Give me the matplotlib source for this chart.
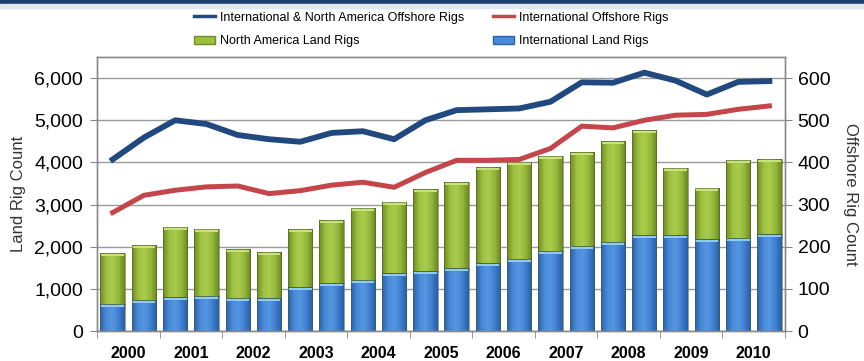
import numpy as np
import matplotlib.pyplot as plt
from matplotlib.colors import LinearSegmentedColormap
from matplotlib.patches import Rectangle, Patch
from matplotlib.lines import Line2D
from matplotlib.ticker import StrMethodFormatter, FixedLocator

plt.rcParams['font.family'] = ['Liberation Sans', 'DejaVu Sans']

years = ['2000', '2001', '2002', '2003', '2004', '2005',
         '2006', '2007', '2008', '2009', '2010']

# half-year rig counts, two per year
intl_land = [650, 740, 800, 840, 790, 785, 1035, 1130, 1220, 1375, 1425,
             1490, 1615, 1715, 1905, 2020, 2120, 2275, 2275, 2185, 2215, 2300]
na_land = [1195, 1300, 1675, 1590, 1145, 1090, 1385, 1500, 1705, 1690, 1940,
           2035, 2265, 2300, 2255, 2220, 2385, 2485, 1600, 1215, 1850, 1780]
offshore_all = [407, 459, 500, 491, 465, 455, 449, 470, 474, 455, 500,
                524, 526, 528, 544, 590, 589, 613, 594, 561, 591, 593]
offshore_intl = [281, 322, 334, 342, 344, 326, 333, 346, 353, 341, 376,
                 405, 405, 407, 433, 486, 482, 500, 512, 514, 526, 534]

navy = '#21497f'
red = '#c4464a'
green_cmap = LinearSegmentedColormap.from_list(
    'g', ['#6f8c22', '#9dc040', '#a9cc4c', '#94b83a', '#6a8720'])
blue_cmap = LinearSegmentedColormap.from_list(
    'b', ['#2a63ad', '#4a8ad8', '#5596e2', '#3f7fcf', '#275ea6'])
grad = np.linspace(0, 1, 64).reshape(1, -1)

x = np.arange(len(intl_land))
width = 0.78

fig = plt.figure(figsize=(8.64, 3.61), dpi=100)
# dark title strip along the top edge
fig.patches.append(Rectangle((0, 0.99), 1, 0.01, transform=fig.transFigure,
                             color='#1d3f6e', zorder=5))
fig.patches.append(Rectangle((0, 0.978), 1, 0.012, transform=fig.transFigure,
                             color='#dfe6ee', zorder=5))
ax = fig.add_axes([0.1123, 0.0831, 0.7963, 0.7589])
ax2 = ax.twinx()


def shaded_bars(values, bottom, cmap, top_color):
    bars = ax.bar(x, values, width, bottom=bottom, facecolor='none',
                  edgecolor='#4a5a30', linewidth=0.4, zorder=3)
    for rect in bars:
        x0, y0 = rect.get_x(), rect.get_y()
        im = ax.imshow(grad, extent=[x0, x0 + rect.get_width(), y0, y0 + rect.get_height()],
                       aspect='auto', cmap=cmap, zorder=2.5, interpolation='bilinear')
        im.set_clip_path(rect)
    tops = np.array(bottom) + np.array(values)
    ax.bar(x, 55, width * 0.94, bottom=tops - 70, color=top_color, zorder=2.8, linewidth=0)


shaded_bars(intl_land, np.zeros(len(x)), blue_cmap, '#8fcaf5')
shaded_bars(na_land, np.array(intl_land), green_cmap, '#c9e27a')

ax.set_xlim(-0.5, len(x) - 0.5)
ax.set_ylim(0, 6500)
ax.set_yticks(range(0, 6001, 1000))
ax.yaxis.set_major_formatter(StrMethodFormatter('{x:,.0f}'))
ax.grid(axis='y', color='#9a9a9a', linewidth=1, zorder=0)
ax.set_axisbelow(True)

ax.xaxis.set_major_locator(FixedLocator(np.arange(0.5, len(x), 2)))
ax.set_xticklabels(years, fontsize=11.5, fontweight='bold')
ax.xaxis.set_minor_locator(FixedLocator(np.arange(-0.5, len(x), 1)))
ax.tick_params(axis='x', which='major', length=0, pad=10.5)
ax.tick_params(axis='x', which='minor', length=5, color='#888888')
ax.tick_params(axis='y', length=5, color='#888888', labelsize=14, pad=5)
ax.set_ylabel('Land Rig Count', fontsize=12, color='#333333', labelpad=6)

ax2.plot(x, offshore_intl, color=red, linewidth=3.6, solid_joinstyle='round', zorder=4)
ax2.plot(x, offshore_all, color=navy, linewidth=4.2, solid_joinstyle='round', zorder=4)
ax2.set_ylim(0, 650)
ax2.set_yticks(range(0, 601, 100))
ax2.tick_params(axis='y', length=5, color='#888888', labelsize=14, pad=4)
ax2.set_ylabel('Offshore Rig Count', fontsize=12, color='#333333',
               rotation=-90, labelpad=20)

for a in (ax, ax2):
    for s in a.spines.values():
        s.set_color('#8a8a8a')
        s.set_linewidth(1)

legend_style = dict(loc='upper left', frameon=False, fontsize=9, handlelength=1.7,
                    handletextpad=0.35, labelspacing=0.95, borderpad=0, borderaxespad=0)
fig.legend([Line2D([], [], color=navy, linewidth=2.5),
            Patch(facecolor='#9dc040', edgecolor='#6f8c22')],
           ['International & North America Offshore Rigs', 'North America Land Rigs'],
           bbox_to_anchor=(194 / 864, 0.968), **legend_style)
fig.legend([Line2D([], [], color=red, linewidth=2.5),
            Patch(facecolor='#4a8ad8', edgecolor='#2a63ad')],
           ['International Offshore Rigs', 'International Land Rigs'],
           bbox_to_anchor=(493 / 864, 0.968), **legend_style)

fig.savefig('out.png', dpi=100)
